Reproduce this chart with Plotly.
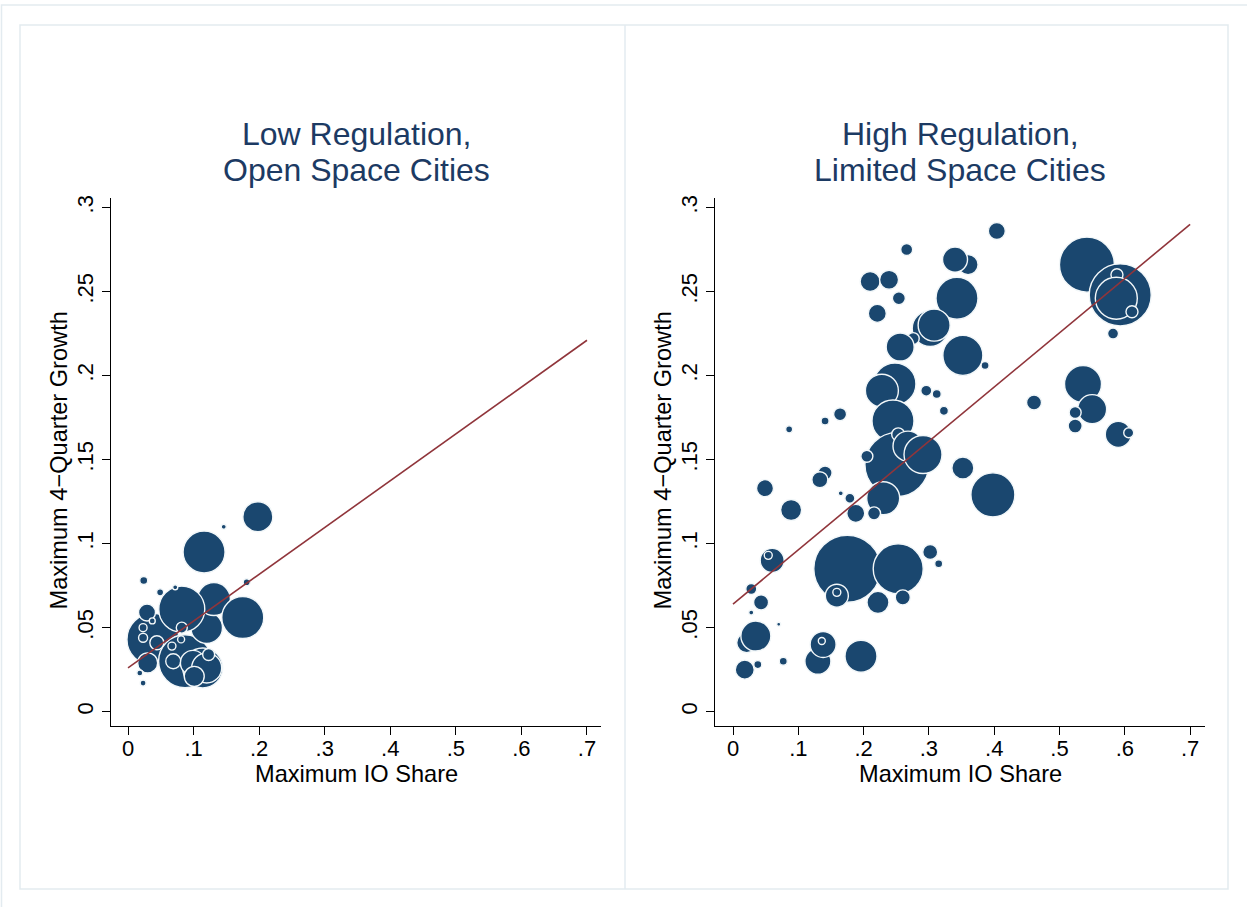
import plotly.graph_objects as go

W, H = 1247, 907

# ---------------- data ----------------
# Low regulation, open space cities
low_x = [0.038, 0.087, 0.114, 0.120, 0.131, 0.175, 0.082, 0.198, 0.146, 0.116,
         0.024, 0.181, 0.049, 0.072, 0.029, 0.023, 0.037, 0.023, 0.044, 0.082,
         0.067, 0.081, 0.069, 0.030, 0.099, 0.120, 0.123, 0.018, 0.023, 0.101]
low_y = [0.043, 0.030, 0.026, 0.050, 0.067, 0.056, 0.061, 0.116, 0.110, 0.095,
         0.078, 0.077, 0.071, 0.074, 0.059, 0.050, 0.054, 0.044, 0.041, 0.050,
         0.039, 0.043, 0.030, 0.029, 0.029, 0.026, 0.034, 0.023, 0.017, 0.021]
low_w = [27.0, 28.0, 16.0, 10.0, 10.89, 17.64, 21.16, 9.0, 0.25, 17.64,
         0.64, 0.49, 0.49, 0.25, 2.89, 0.64, 0.36, 0.81, 1.96, 1.21,
         0.64, 0.49, 2.25, 4.0, 6.25, 9.0, 1.44, 0.36, 0.36, 4.0]

# High regulation, limited space cities
high_x = [0.404, 0.266, 0.360, 0.340, 0.210, 0.239, 0.254, 0.343, 0.221, 0.302,
          0.276, 0.308, 0.256, 0.386, 0.352, 0.248, 0.228, 0.296, 0.312, 0.323,
          0.461, 0.164, 0.141, 0.086, 0.245, 0.251, 0.253, 0.268, 0.291, 0.205,
          0.352, 0.141, 0.133, 0.049, 0.230, 0.165, 0.179, 0.188, 0.216, 0.089,
          0.398, 0.302, 0.315, 0.175, 0.253, 0.260, 0.222, 0.159, 0.159, 0.060,
          0.054, 0.028, 0.043, 0.028, 0.070, 0.021, 0.035, 0.018, 0.038, 0.077,
          0.130, 0.138, 0.136, 0.196, 0.542, 0.593, 0.588, 0.587, 0.611, 0.582,
          0.536, 0.550, 0.524, 0.524, 0.590, 0.606]
high_y = [0.286, 0.275, 0.266, 0.269, 0.256, 0.257, 0.246, 0.246, 0.237, 0.228,
          0.222, 0.230, 0.217, 0.206, 0.212, 0.195, 0.191, 0.191, 0.189, 0.179,
          0.184, 0.177, 0.173, 0.168, 0.173, 0.147, 0.165, 0.158, 0.153, 0.152,
          0.145, 0.142, 0.138, 0.133, 0.127, 0.130, 0.127, 0.118, 0.118, 0.120,
          0.129, 0.095, 0.088, 0.085, 0.085, 0.068, 0.065, 0.069, 0.071, 0.090,
          0.093, 0.073, 0.065, 0.059, 0.052, 0.041, 0.045, 0.025, 0.028, 0.030,
          0.030, 0.040, 0.042, 0.033, 0.266, 0.248, 0.260, 0.246, 0.238, 0.225,
          0.195, 0.180, 0.178, 0.170, 0.165, 0.166]
high_w = [2.89, 1.44, 4.0, 6.25, 4.0, 3.61, 1.69, 17.64, 3.24, 12.96,
          1.44, 10.24, 7.84, 0.64, 16.0, 17.64, 10.89, 1.21, 0.81, 0.81,
          2.25, 1.69, 0.64, 0.49, 17.64, 40.96, 1.69, 9.0, 14.44, 1.44,
          4.84, 1.96, 2.56, 2.89, 10.89, 0.25, 1.0, 3.24, 1.69, 4.41,
          19.36, 2.25, 0.64, 44.89, 25.0, 2.25, 4.84, 5.29, 0.64, 5.76,
          0.64, 1.21, 2.25, 0.25, 0.16, 4.0, 9.0, 3.61, 0.64, 0.64,
          6.76, 6.76, 0.49, 10.24, 30.25, 38.44, 1.44, 17.64, 1.44, 1.21,
          13.69, 8.41, 1.44, 1.96, 6.76, 1.0]

# fitted lines (end points)
fit_x = [0.0, 0.7]
low_fit_y = [0.026, 0.221]
high_fit_y = [0.064, 0.290]

x_ticks = [0, 0.1, 0.2, 0.3, 0.4, 0.5, 0.6, 0.7]
x_tick_labels = ["0", ".1", ".2", ".3", ".4", ".5", ".6", ".7"]
y_ticks = [0, 0.05, 0.1, 0.15, 0.2, 0.25, 0.3]
y_tick_labels = ["0", ".05", ".1", ".15", ".2", ".25", ".3"]

titles = [("Low Regulation,", "Open Space Cities"),
          ("High Regulation,", "Limited Space Cities")]
x_title = "Maximum IO Share"
y_title = "Maximum 4\u2212Quarter Growth"

# ---------------- style ----------------
NAVY = "#1a476f"
MAROON = "#90353b"
TITLE_C = "#1c3a63"
FRAME = "#e3ebf0"
FONT = "Liberation Sans, Arial, sans-serif"


def px(x):
    return x / W


def py(y):
    return 1 - y / H


fig = go.Figure()

marker_common = dict(color=NAVY, sizemode="area", sizeref=0.02,
                     line=dict(color="#f2f7f9", width=1.4), opacity=1)

fig.add_trace(go.Scatter(x=low_x, y=low_y, mode="markers",
                         marker=dict(size=low_w, **marker_common),
                         xaxis="x", yaxis="y", showlegend=False))
fig.add_trace(go.Scatter(x=fit_x, y=low_fit_y, mode="lines",
                         line=dict(color=MAROON, width=1.6),
                         xaxis="x", yaxis="y", showlegend=False))
fig.add_trace(go.Scatter(x=high_x, y=high_y, mode="markers",
                         marker=dict(size=high_w, **marker_common),
                         xaxis="x2", yaxis="y2", showlegend=False))
fig.add_trace(go.Scatter(x=fit_x, y=high_fit_y, mode="lines",
                         line=dict(color=MAROON, width=1.6),
                         xaxis="x2", yaxis="y2", showlegend=False))

axis_common = dict(showline=True, linecolor="#000000", linewidth=1.4,
                   ticks="outside", ticklen=8, tickwidth=1.3, tickcolor="#000000",
                   showgrid=False, zeroline=False, mirror=False,
                   tickfont=dict(family=FONT, size=22, color="#000000"))

# panel geometry (pixels)
panels = [dict(x0=111, x1=601, xzero=128, xscale=655.7),
          dict(x0=715, x1=1205, xzero=733, xscale=653.0)]
ytop, ybot, yzero, yscale = 196, 725, 711, 1686.0

yrange = [-(ybot - yzero) / yscale, (yzero - ytop) / yscale]

for i, p in enumerate(panels):
    xr = [-(p["xzero"] - p["x0"]) / p["xscale"], (p["x1"] - p["xzero"]) / p["xscale"]]
    sfx = "" if i == 0 else str(i + 1)
    fig.layout["xaxis" + sfx] = dict(domain=[px(p["x0"]), px(p["x1"])], range=xr,
                                     tickvals=x_ticks, ticktext=x_tick_labels,
                                     ticklabelstandoff=-5,
                                     anchor="y" + sfx, **axis_common)
    fig.layout["yaxis" + sfx] = dict(domain=[py(ybot), py(ytop)], range=yrange,
                                     tickvals=y_ticks, ticktext=y_tick_labels,
                                     tickangle=-90, anchor="x" + sfx, **axis_common)

annotations = []
centers = [356, 960]
for i, c in enumerate(centers):
    common = dict(xref="paper", yref="paper", showarrow=False,
                  xanchor="center", yanchor="middle")
    annotations.append(dict(x=px(c), y=py(131.5), text=titles[i][0],
                            font=dict(family=FONT, size=32, color=TITLE_C), **common))
    annotations.append(dict(x=px(c), y=py(167.5), text=titles[i][1],
                            font=dict(family=FONT, size=32, color=TITLE_C), **common))
    annotations.append(dict(x=px(c), y=py(774), text=x_title,
                            font=dict(family=FONT, size=23.6, color="#000000"), **common))
    annotations.append(dict(x=px(panels[i]["x0"] - 52), y=py(459), text=y_title,
                            textangle=-90,
                            font=dict(family=FONT, size=23.6, color="#000000"), **common))

shapes = [
    dict(type="rect", xref="paper", yref="paper", x0=px(1.5), x1=px(1260),
         y0=py(2), y1=py(920), line=dict(color=FRAME, width=1.5)),
    dict(type="rect", xref="paper", yref="paper", x0=px(20), x1=px(1228),
         y0=py(22), y1=py(889), line=dict(color=FRAME, width=1.5)),
    dict(type="line", xref="paper", yref="paper", x0=px(625), x1=px(625),
         y0=py(22), y1=py(889), line=dict(color=FRAME, width=1.5)),
]

fig.update_layout(width=W, height=H, autosize=False,
                  margin=dict(l=0, r=0, t=0, b=0, pad=0),
                  paper_bgcolor="white", plot_bgcolor="white",
                  annotations=annotations, shapes=shapes,
                  font=dict(family=FONT))

fig.write_html("out.html", config={"displayModeBar": False},
               post_script="document.body.style.margin='0';")
